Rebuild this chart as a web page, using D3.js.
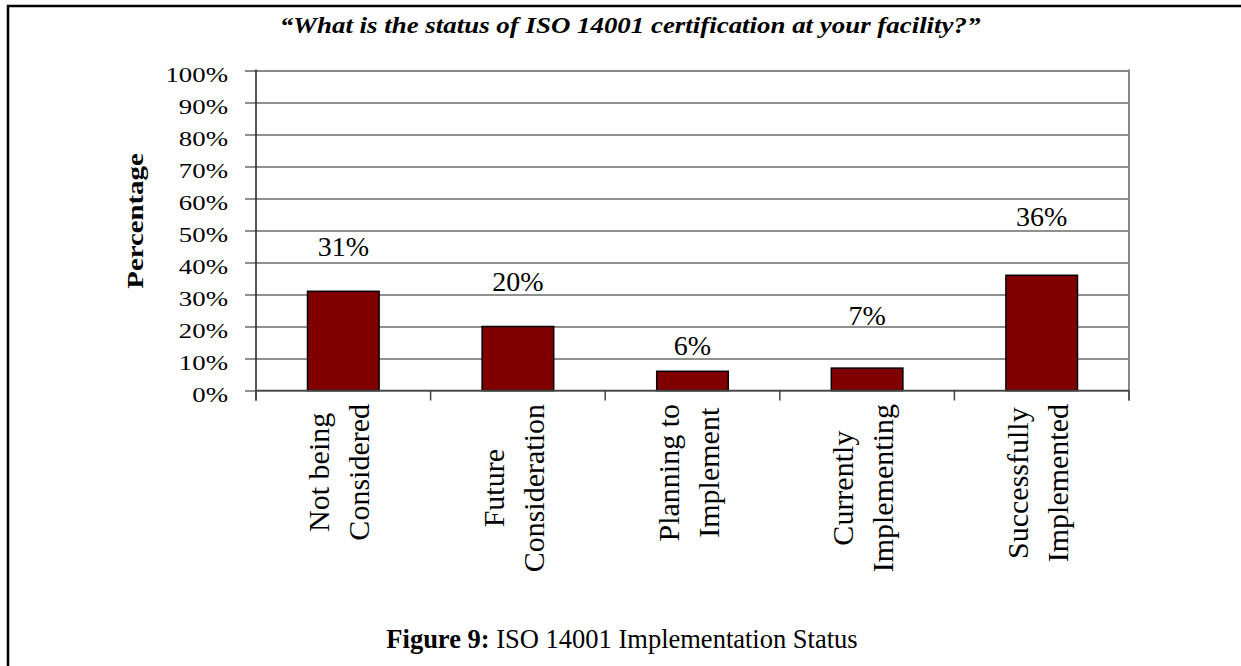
<!DOCTYPE html>
<html>
<head>
<meta charset="utf-8">
<script src="https://cdn.jsdelivr.net/npm/d3@7"></script>
<style>
  body { margin: 0; background: #fff; }
  svg text { font-family: "Liberation Serif", "Times New Roman", serif; }
</style>
</head>
<body>
<div id="chart"></div>
<script>
// 数据
const categories = ["Not being|Considered", "Future|Consideration", "Planning to|Implement", "Currently|Implementing", "Successfully|Implemented"];
const values = [31, 20, 6, 7, 36];
// 数值标签所在高度（百分比单位，从图上读出）
const labelAt = [42, 31, 11, 20.5, 51.5];
const yTicks = [0, 10, 20, 30, 40, 50, 60, 70, 80, 90, 100];

const W = 1241, H = 666;
const plot = { left: 256, top: 70.5, right: 1129, bottom: 390.5 };
const FONT = "Liberation Serif";

const svg = d3.select("#chart").append("svg")
    .attr("width", W)
    .attr("height", H);

// 外框
svg.append("rect")
    .attr("x", 8).attr("y", 6)
    .attr("width", W + 10).attr("height", H + 10)
    .attr("fill", "none")
    .attr("stroke", "#000")
    .attr("stroke-width", 2.5);

const y = d3.scaleLinear().domain([0, 100]).range([plot.bottom, plot.top]);
const x = d3.scaleBand().domain(categories)
    .range([plot.left, plot.right])
    .paddingInner(0.59).paddingOuter(0.295);

// 网格线 + 左侧刻度
const yAxis = svg.append("g")
    .attr("transform", `translate(${plot.left},0)`)
    .call(d3.axisLeft(y).tickValues(yTicks).tickSizeInner(-(plot.right - plot.left)).tickSizeOuter(0).tickFormat(""));
yAxis.select(".domain").remove();
yAxis.selectAll(".tick line")
    .attr("x1", -11)
    .attr("stroke", "#222")
    .attr("stroke-width", 1.2);
yAxis.selectAll(".tick").filter(d => d === 100).select("line")
    .attr("stroke", "#888").attr("stroke-width", 2);

// 右边框
svg.append("line")
    .attr("x1", plot.right).attr("x2", plot.right)
    .attr("y1", plot.top - 1).attr("y2", plot.bottom + 10)
    .attr("stroke", "#888").attr("stroke-width", 2);

// 左轴
svg.append("line")
    .attr("x1", plot.left).attr("x2", plot.left)
    .attr("y1", plot.top - 1).attr("y2", plot.bottom + 10)
    .attr("stroke", "#222").attr("stroke-width", 1.5);

// y刻度标签
svg.append("g").selectAll("g")
    .data(yTicks)
    .enter().append("g")
    .attr("transform", d => `translate(228,${y(d) + 11.5}) scale(1.22,1)`)
    .append("text")
    .attr("text-anchor", "end")
    .attr("font-family", FONT)
    .attr("font-size", 22)
    .attr("fill", "#000")
    .text(d => d + "%");

// 柱子
svg.append("g").selectAll("rect")
    .data(values)
    .enter().append("rect")
    .attr("x", (d, i) => x(categories[i]))
    .attr("y", d => y(d))
    .attr("width", x.bandwidth())
    .attr("height", d => y(0) - y(d))
    .attr("fill", "#800000")
    .attr("stroke", "#000")
    .attr("stroke-width", 1.5);

// 底轴
svg.append("line")
    .attr("x1", plot.left).attr("x2", plot.right)
    .attr("y1", plot.bottom).attr("y2", plot.bottom)
    .attr("stroke", "#444").attr("stroke-width", 1.5);

// x刻度（类别边界）
const step = x.step();
const bounds = d3.range(categories.length + 1).map(i => plot.left + i * step);
svg.append("g").selectAll("line")
    .data(bounds)
    .enter().append("line")
    .attr("x1", d => d).attr("x2", d => d)
    .attr("y1", plot.bottom).attr("y2", plot.bottom + 10)
    .attr("stroke", "#444").attr("stroke-width", 1.5);

// 数值标签
svg.append("g").selectAll("text")
    .data(values)
    .enter().append("text")
    .attr("x", (d, i) => x(categories[i]) + x.bandwidth() / 2)
    .attr("y", (d, i) => y(labelAt[i]))
    .attr("text-anchor", "middle")
    .attr("font-family", FONT)
    .attr("font-size", 28)
    .text(d => d + "%");

// x类别标签（旋转，两行居中）
categories.forEach(c => {
    const lines = c.split("|");
    const cx = x(c) + x.bandwidth() / 2;
    const g = svg.append("g");
    const texts = lines.map(ln => g.append("text")
        .attr("font-family", FONT)
        .attr("font-size", 30)
        .attr("text-anchor", "middle")
        .text(ln));
    const maxLen = d3.max(texts, t => t.node().getComputedTextLength());
    const cy = 404 + maxLen / 2;
    texts.forEach((t, j) => {
        const bx = cx - 14 + j * 40;
        t.attr("transform", `translate(${bx},${cy}) rotate(-90)`);
    });
});

// y轴标题
svg.append("text")
    .attr("transform", "translate(143,221) rotate(-90) scale(1.2,1)")
    .attr("text-anchor", "middle")
    .attr("font-family", FONT)
    .attr("font-size", 24)
    .attr("font-weight", "bold")
    .text("Percentage");

// 标题
svg.append("text")
    .attr("transform", "translate(630,33) scale(1.17,1)")
    .attr("text-anchor", "middle")
    .attr("font-family", FONT)
    .attr("font-size", 23)
    .attr("font-weight", "bold")
    .attr("font-style", "italic")
    .text("\u201CWhat is the status of ISO 14001 certification at your facility?\u201D");

// 图注
const cap = svg.append("text")
    .attr("x", 622).attr("y", 648)
    .attr("text-anchor", "middle")
    .attr("font-family", FONT)
    .attr("font-size", 26.5);
cap.append("tspan").attr("font-weight", "bold").text("Figure 9:");
cap.append("tspan").text(" ISO 14001 Implementation Status");
</script>
</body>
</html>
